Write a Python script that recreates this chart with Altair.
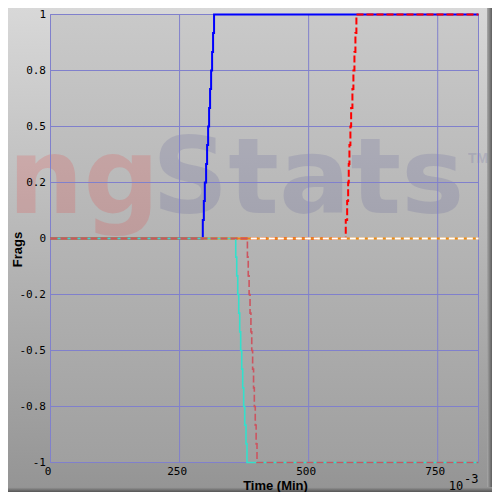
import altair as alt
import pandas as pd

# ---------------- data ----------------
X_END = 829  # game length (x 10^-3 min)

blue_time = [0, 295.0, 297.0, 298.9, 301.4, 303.3, 305.3, 307.2, 309.1, 311.1, 313.0, 314.9, 316.8, 829]
blue_frags = [0, 0.083, 0.167, 0.25, 0.333, 0.417, 0.5, 0.583, 0.667, 0.75, 0.833, 0.917, 1.0, 1.0]

red_time = [0, 571.9, 574.6, 576.5, 577.7, 579.0, 580.9, 582.3, 584.8, 586.7, 588.7, 590.6, 592.5, 829]
red_frags = [0, 0.083, 0.167, 0.25, 0.333, 0.417, 0.5, 0.583, 0.667, 0.75, 0.833, 0.917, 1.0, 1.0]

cyan_time = [0, 358.8, 360.7, 362.7, 364.6, 366.5, 368.4, 370.4, 372.3, 374.2, 376.2, 378.7, 380.6, 829]
cyan_frags = [0, -0.083, -0.167, -0.25, -0.333, -0.417, -0.5, -0.583, -0.667, -0.75, -0.833, -0.917, -1.0, -1.0]

indianred_time = [0, 381.4, 383.0, 384.7, 386.5, 388.2, 389.8, 391.5, 393.3, 394.8, 396.6, 398.3, 400.0, 829]
indianred_frags = [0, -0.083, -0.167, -0.25, -0.333, -0.417, -0.5, -0.583, -0.667, -0.75, -0.833, -0.917, -1.0, -1.0]

orange_time = [0, 829]
orange_frags = [0, 0]

white_time = [388, 829]
white_frags = [0, 0]

x_tick_values = [0, 250, 500, 750]
y_tick_values = [-1, -0.75, -0.5, -0.25, 0, 0.25, 0.5, 0.75, 1]
y_tick_labels = ["-1", "-0.8", "-0.5", "-0.2", "0", "0.2", "0.5", "0.8", "1"]

watermark_left = "ng"
watermark_right = "Stats"
watermark_tm = "TM"
exponent_base = "10"
exponent_power = "-3"

# ---------------- layout ----------------
W, H = 428, 448
PAD = {"left": 42.5, "top": 6.5, "right": 13.5, "bottom": 29.5}
GRID = "#8080cc"

one = pd.DataFrame({"k": [0]})


def sdf(t, v):
    return pd.DataFrame({"time": t, "frags": v})


x_scale = alt.Scale(domain=[0, X_END], nice=False, zero=False)
y_scale = alt.Scale(domain=[-1, 1], nice=False, zero=False)

expr = "''"
for v, lab in reversed(list(zip(y_tick_values, y_tick_labels))):
    expr = f"datum.value == {v} ? '{lab}' : ({expr})"

x_axis = alt.Axis(
    values=x_tick_values, grid=False, ticks=False, domain=False,
    labelFont="DejaVu Sans Mono", labelFontSize=11, labelColor="black",
    labelPadding=3, labelOffset=-3, labelFlush=False, labelOverlap=False,
    title="Time (Min)", titleFont="Liberation Sans", titleFontSize=13,
    titleFontWeight="bold", titleColor="black", titleX=224.5, titleY=26.5,
    titleBaseline="alphabetic", titleAlign="center", zindex=2,
)
y_axis = alt.Axis(
    values=y_tick_values, labelExpr=expr, grid=False, ticks=False,
    domain=False, labelFont="DejaVu Sans Mono", labelFontSize=11,
    labelColor="black", labelPadding=5, labelFlush=False, labelOverlap=False,
    labelBaseline="middle",
    title="Frags", titleFont="Liberation Sans", titleFontSize=13,
    titleFontWeight="bold", titleColor="black", titleAngle=-90,
    titleX=-29, titleY=234.5, titleAlign="center", titleBaseline="alphabetic",
    zindex=2,
)


def vgrad(c0, c1):
    return alt.LinearGradient(
        gradient="linear",
        stops=[alt.GradientStop(offset=0, color=c0), alt.GradientStop(offset=1, color=c1)],
        x1=0, x2=0, y1=0, y2=1,
    )


def hgrad(c0, c1):
    return alt.LinearGradient(
        gradient="linear",
        stops=[alt.GradientStop(offset=0, color=c0), alt.GradientStop(offset=1, color=c1)],
        x1=0, x2=1, y1=0, y2=0,
    )


L, T, R, B = PAD["left"], PAD["top"], PAD["right"], PAD["bottom"]

outer_bg = alt.Chart(one).mark_rect(fill=vgrad("#d8d8d8", "#949494")).encode(
    x=alt.value(-L), x2=alt.value(W + R), y=alt.value(-T), y2=alt.value(H + B)
)
right_bevel = alt.Chart(one).mark_rect(fill=hgrad("#a8a8a8", "#5e5e5e")).encode(
    x=alt.value(W + R - 5), x2=alt.value(W + R), y=alt.value(-T), y2=alt.value(H + B)
)
bottom_bevel = alt.Chart(one).mark_rect(fill=vgrad("#9a9a9a", "#555555")).encode(
    x=alt.value(-L), x2=alt.value(W + R), y=alt.value(H + B - 5), y2=alt.value(H + B)
)
plot_bg = alt.Chart(one).mark_rect(fill=vgrad("#c9c9c9", "#a0a0a0")).encode(
    x=alt.value(0), x2=alt.value(W), y=alt.value(0), y2=alt.value(H)
)

wm_ng = alt.Chart(one).mark_text(
    font="DejaVu Sans", fontWeight="bold", fontSize=106, align="left",
    baseline="alphabetic", fill="#ff0000", opacity=0.13,
).encode(x=alt.value(-42.5), y=alt.value(198.5), text=alt.value(watermark_left))
wm_stats = alt.Chart(one).mark_text(
    font="DejaVu Sans", fontWeight="bold", fontSize=106, align="left",
    baseline="alphabetic", fill="#3a3a8c", opacity=0.14,
).encode(x=alt.value(101.5), y=alt.value(198.5), text=alt.value(watermark_right))
wm_tm = alt.Chart(one).mark_text(
    font="Liberation Sans", fontWeight="bold", fontSize=14, align="left",
    baseline="alphabetic", fill="#3a3a8c", opacity=0.14,
).encode(x=alt.value(417.5), y=alt.value(148.5), text=alt.value(watermark_tm))

xgrid = alt.Chart(pd.DataFrame({"time": x_tick_values})).mark_rule(
    color=GRID, strokeWidth=1
).encode(x=alt.X("time:Q", scale=x_scale, axis=x_axis))
ygrid = alt.Chart(pd.DataFrame({"frags": y_tick_values})).mark_rule(
    color=GRID, strokeWidth=1
).encode(y=alt.Y("frags:Q", scale=y_scale, axis=y_axis))
frame = alt.Chart(one).mark_rect(filled=False, stroke=GRID, strokeWidth=1, fillOpacity=0).encode(
    x=alt.value(0), x2=alt.value(W), y=alt.value(0), y2=alt.value(H)
)


def line(t, v, color, width, dash=None):
    kw = dict(color=color, strokeWidth=width, interpolate="step-after", strokeCap="butt")
    if dash:
        kw["strokeDash"] = dash
    return alt.Chart(sdf(t, v)).mark_line(**kw).encode(
        x=alt.X("time:Q", scale=x_scale, axis=x_axis),
        y=alt.Y("frags:Q", scale=y_scale, axis=y_axis),
        order=alt.Order("time:Q"),
    )


l_blue = line(blue_time, blue_frags, "#0000ff", 2)
l_red = line(red_time, red_frags, "#ff0000", 2, [7, 3])
l_orange = line(orange_time, orange_frags, "#f08c10", 2)
l_cyan = line(cyan_time, cyan_frags, "#33e0cc", 1.6)
l_ired = line(indianred_time, indianred_frags, "#cc5560", 1.6, [7, 3])
l_white = line(white_time, white_frags, "#ffffff", 2, [6, 3])

exp_base = alt.Chart(one).mark_text(
    font="DejaVu Sans Mono", fontSize=12, align="center", baseline="alphabetic", color="black"
).encode(x=alt.value(405.5), y=alt.value(475.5), text=alt.value(exponent_base))
exp_pow = alt.Chart(one).mark_text(
    font="DejaVu Sans Mono", fontSize=12, align="left", baseline="alphabetic", color="black"
).encode(x=alt.value(413.5), y=alt.value(468.5), text=alt.value(exponent_power))

chart = alt.layer(
    outer_bg, right_bevel, bottom_bevel, plot_bg,
    wm_ng, wm_stats, wm_tm,
    xgrid, ygrid, frame,
    l_blue, l_red, l_orange, l_cyan, l_ired, l_white,
    exp_base, exp_pow,
).properties(
    width=W, height=H, autosize=alt.AutoSizeParams(type="none"), padding=PAD
).configure_view(stroke=None)

chart.save("out.html", embed_options={"renderer": "svg", "actions": False})
